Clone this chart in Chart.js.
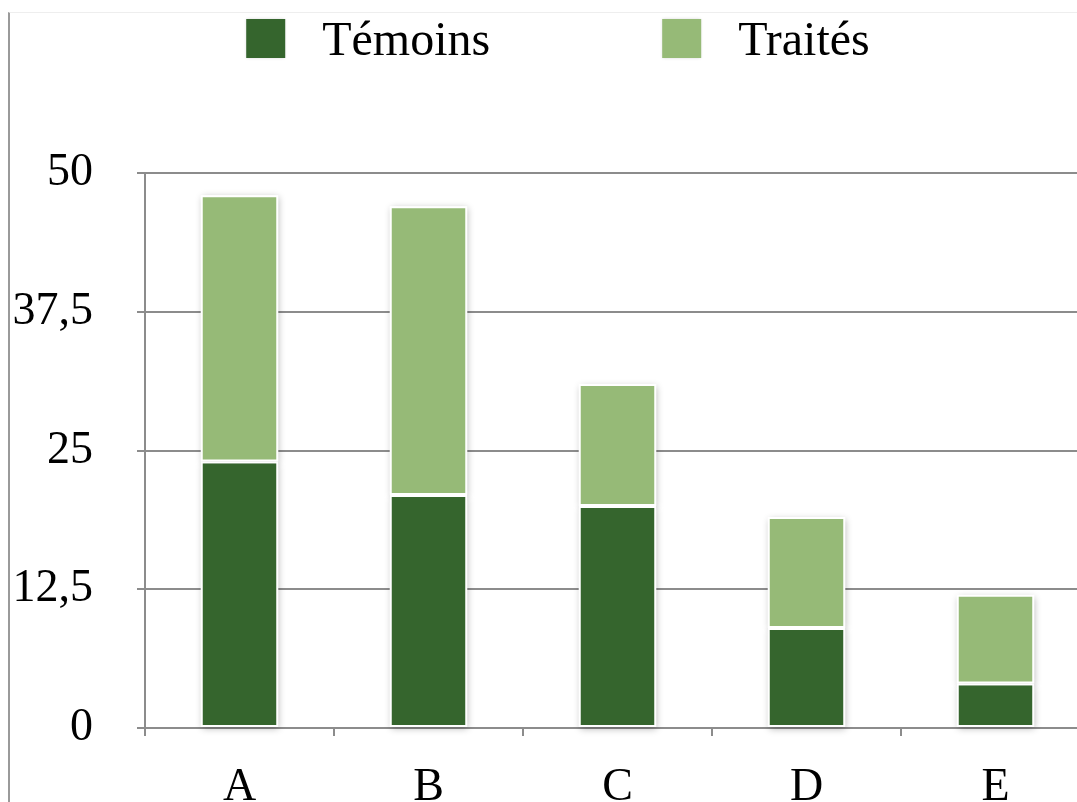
<!DOCTYPE html>
<html lang="fr">
<head>
<meta charset="UTF-8">
<title>Témoins / Traités</title>
<style>
  html, body { margin: 0; padding: 0; background: #fff; }
  #wrap { position: relative; width: 1077px; height: 802px; overflow: hidden; }
  #frame { position: absolute; left: 8px; top: 12px; right: -2px; bottom: -2px;
           border-left: 2px solid #9a9a9a; border-top: 1px solid #eeeeee; }
  canvas { position: absolute; left: 0; top: 0; }
</style>
</head>
<body>
<div id="wrap">
  <div id="frame"></div>
  <canvas id="myChart" width="1100" height="830" style="width:1100px;height:830px"></canvas>
</div>
<script src="https://cdn.jsdelivr.net/npm/chart.js@4.4.0/dist/chart.umd.min.js"></script>
<script>
var categories = ['A', 'B', 'C', 'D', 'E'];
var temoins = [24, 21, 20, 9, 4];
var traites = [24, 26, 11, 10, 8];
var yTicks = [0, 12.5, 25, 37.5, 50];

var darkGreen = '#35652d';
var lightGreen = '#96ba77';
var gridGray = '#8c8c8c';
var serif = "'Liberation Serif', 'DejaVu Serif', serif";

// soft shadow behind each bar, using the bar elements' own geometry
var barShadow = {
    id: 'barShadow',
    beforeDatasetsDraw: function (chart) {
        var ctx = chart.ctx;
        ctx.save();
        ctx.shadowColor = 'rgba(0,0,0,0.28)';
        ctx.shadowBlur = 7;
        ctx.shadowOffsetX = 1;
        ctx.shadowOffsetY = 2;
        ctx.fillStyle = '#ffffff';
        chart.data.datasets.forEach(function (ds, i) {
            chart.getDatasetMeta(i).data.forEach(function (bar) {
                var p = bar.getProps(['x', 'y', 'base', 'width'], true);
                ctx.fillRect(p.x - p.width / 2, Math.min(p.y, p.base), p.width, Math.abs(p.base - p.y));
            });
        });
        ctx.restore();
    }
};

// legend drawn from the datasets, spaced like the original
var topLegend = {
    id: 'topLegend',
    afterDraw: function (chart) {
        var ctx = chart.ctx;
        var box = 39, textGap = 37, itemGap = 172;
        ctx.save();
        ctx.font = '48px ' + serif;
        var items = chart.data.datasets.map(function (ds) {
            return { label: ds.label, color: ds.backgroundColor, w: ctx.measureText(ds.label).width };
        });
        var total = 0;
        items.forEach(function (it, i) { total += box + textGap + it.w + (i ? itemGap : 0); });
        var x = 558 - total / 2;
        items.forEach(function (it) {
            ctx.shadowColor = 'rgba(0,0,0,0.15)';
            ctx.shadowBlur = 3;
            ctx.fillStyle = it.color;
            ctx.fillRect(x, 19, box, box);
            ctx.shadowColor = 'transparent';
            ctx.fillStyle = '#000';
            ctx.textBaseline = 'alphabetic';
            ctx.fillText(it.label, x + box + textGap, 55);
            x += box + textGap + it.w + itemGap;
        });
        ctx.restore();
    }
};

new Chart(document.getElementById('myChart'), {
    type: 'bar',
    data: {
        labels: categories,
        datasets: [
            { label: 'Témoins', data: temoins, backgroundColor: darkGreen },
            { label: 'Traités', data: traites, backgroundColor: lightGreen }
        ]
    },
    options: {
        responsive: false,
        animation: false,
        layout: { padding: { top: 173, right: 10, left: 0, bottom: 0 } },
        datasets: {
            bar: {
                barPercentage: 0.41,
                categoryPercentage: 1.0,
                borderWidth: 2,
                borderColor: '#ffffff',
                borderSkipped: false
            }
        },
        plugins: {
            legend: { display: false },
            tooltip: { enabled: false }
        },
        scales: {
            x: {
                stacked: true,
                afterFit: function (scale) { scale.height = 102; },
                grid: { drawOnChartArea: false, drawTicks: true, tickLength: 8, color: gridGray, lineWidth: 2, offset: true },
                border: { display: true, color: gridGray, width: 2 },
                ticks: { color: '#000', font: { family: serif, size: 46 }, padding: 24 }
            },
            y: {
                stacked: true,
                min: 0,
                max: 50,
                afterFit: function (scale) { scale.width = 145; },
                afterBuildTicks: function (scale) {
                    scale.ticks = yTicks.map(function (v) { return { value: v }; });
                },
                grid: { color: gridGray, lineWidth: 2, tickLength: 8, drawTicks: true },
                border: { display: true, color: gridGray, width: 2 },
                ticks: {
                    color: '#000',
                    font: { family: serif, size: 46 },
                    padding: 44,
                    callback: function (v) { return String(v).replace('.', ','); }
                }
            }
        }
    },
    plugins: [barShadow, topLegend]
});
</script>
</body>
</html>
